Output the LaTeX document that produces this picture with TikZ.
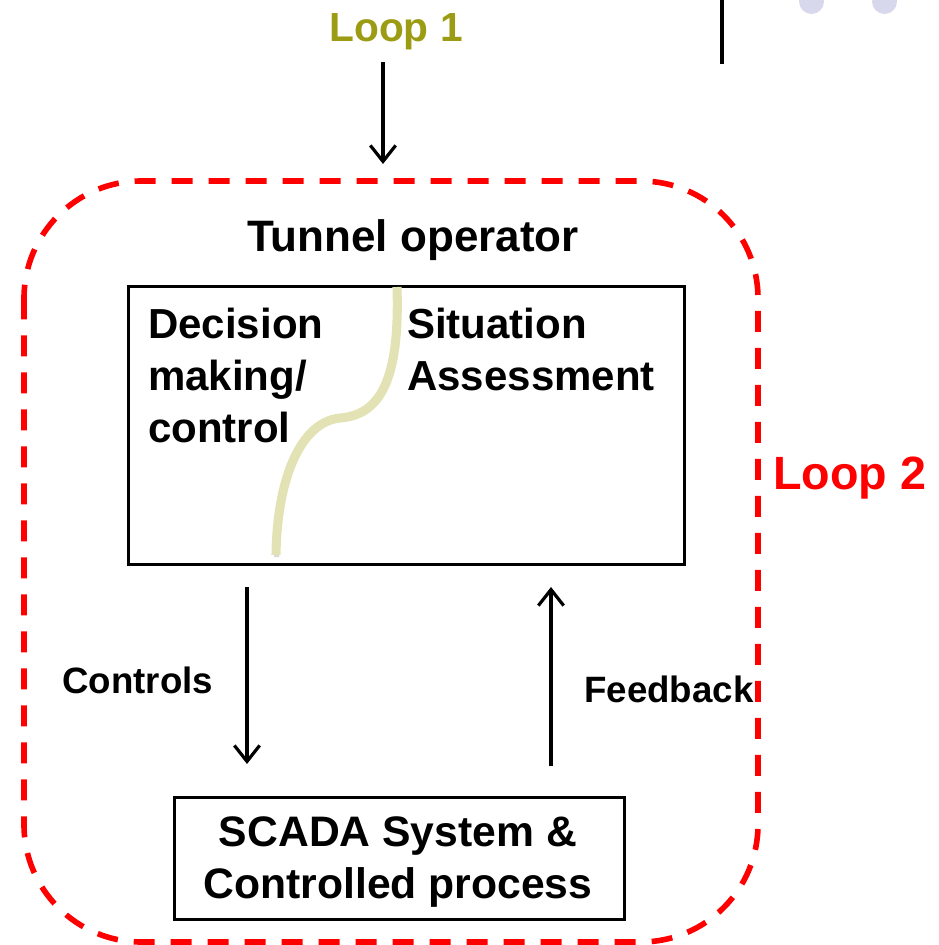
\documentclass[tikz,border=0pt]{standalone}
\usepackage{fontspec}
\setmainfont{Liberation Sans}
\usetikzlibrary{arrows.meta}
\definecolor{loopone}{RGB}{155,155,20}
\definecolor{looptwo}{RGB}{255,0,0}
\definecolor{curvecol}{RGB}{226,226,180}
\definecolor{dotcol}{RGB}{216,216,236}
\tikzset{
  lbl/.style={inner sep=0pt, font=\bfseries},
  boxframe/.style={draw=black, line width=2pt},
  arr/.style={draw=black, line width=2.4pt, -{Straight Barb[length=12pt,width=19pt,line width=2.4pt]}},
}
\begin{document}
\begin{tikzpicture}[x=0.75pt,y=-0.75pt]
\useasboundingbox (0,0) rectangle (938,945);
% top-right decorations
\fill[dotcol] (811.5,1.5) circle (12.5);
\fill[dotcol] (884.5,1.5) circle (12.5);
\draw[line width=2.4pt] (722,0) -- (722,64);
% loop 2 dashed frame
\draw[looptwo, line width=4.2pt, dash pattern=on 15.75pt off 12pt, rounded corners=88pt]
  (24,181) rectangle (758,942);
% texts
\node[lbl, text=loopone, font=\bfseries\fontsize{30.5}{36}\selectfont, anchor=base] (loop1) at (396,42) {Loop 1};
\node[lbl, text=looptwo, font=\bfseries\fontsize{35}{42}\selectfont, anchor=base west] (loop2) at (773,489) {Loop 2};
\node[lbl, font=\bfseries\fontsize{33}{39}\selectfont, anchor=base] (tunnel) at (413,251) {Tunnel operator};
% main box
\node[boxframe, minimum width=556*0.75pt, minimum height=278*0.75pt, inner sep=0pt, anchor=north west] (main) at (127,285) {};
\fill[gray!30] (400,289) .. controls (403,380) and (383,418) .. (343,421) .. controls (303,425) and (280,483) .. (279,557) -- (274,557) .. controls (275,482) and (298,424) .. (338,420) .. controls (378,417) and (398,380) .. (395,289) -- cycle;
\draw[curvecol, line width=6.8pt] (397,287) .. controls (400,380) and (380,415) .. (340,418) .. controls (300,422) and (277,480) .. (276,555);
\node[lbl, font=\bfseries\fontsize{31.5}{39}\selectfont, align=left, anchor=north west] (decision) at (148,308) {Decision\\making/\\control};
\node[lbl, font=\bfseries\fontsize{31.5}{39}\selectfont, align=left, anchor=north west] (situation) at (407,308) {Situation\\Assessment};
% SCADA box
\node[boxframe, minimum width=450*0.75pt, minimum height=122*0.75pt, inner sep=0pt, anchor=north west] (scada) at (173,796) {};
\node[lbl, font=\bfseries\fontsize{32}{39}\selectfont, align=center, anchor=north] (scadatext) at (398,816) {SCADA System \&\\Controlled process};
% arrow labels
\node[lbl, font=\bfseries\fontsize{27.5}{33}\selectfont, anchor=base west] (controls) at (62,693) {Controls};
\node[lbl, font=\bfseries\fontsize{27.5}{33}\selectfont, anchor=base west] (feedback) at (584,702) {Feedback};
% connectors
\coordinate (l1s) at (383,62);
\coordinate (l1e) at (383,164);
\coordinate (cs) at (247,587);
\coordinate (ce) at (247,764);
\coordinate (fs) at (551,766);
\coordinate (fe) at (551,587);
\draw[arr] (l1s) -- (l1e);
\draw[arr] (cs) -- (ce);
\draw[arr] (fs) -- (fe);
\end{tikzpicture}
\end{document}
